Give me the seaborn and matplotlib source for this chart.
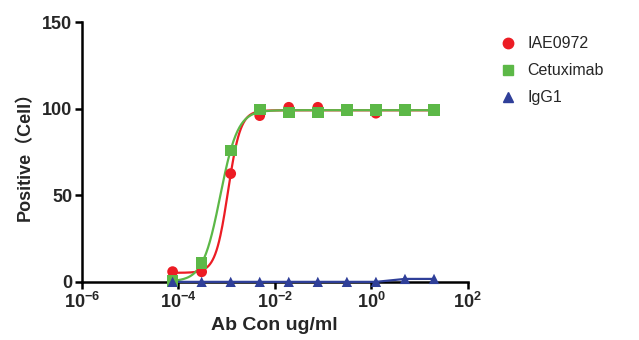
import numpy as np
import pandas as pd
import seaborn as sns
import matplotlib
matplotlib.use("Agg")
import matplotlib.pyplot as plt
from matplotlib.ticker import NullLocator
from matplotlib.lines import Line2D

# Antibody concentrations (ug/ml), 4-fold serial dilution from 20 ug/ml
conc = [7.63e-5, 3.05e-4, 1.22e-3, 4.88e-3, 0.0195, 0.078, 0.3125, 1.25, 5.0, 20.0]

# Positive cells (%) per antibody
iae0972 = [5.9, 5.8, 62.5, 96.0, 100.8, 100.8, 99.2, 97.4, 99.2, 99.3]
cetuximab = [0.5, 10.9, 75.9, 99.6, 97.9, 97.9, 99.4, 99.4, 99.4, 99.4]
igg1 = [0.0, 0.0, 0.0, 0.0, 0.0, 0.0, 0.0, 0.0, 1.7, 1.7]

series_names = ["IAE0972", "Cetuximab", "IgG1"]
colors = {"IAE0972": "#ec1c24", "Cetuximab": "#5cb847", "IgG1": "#2f3f99"}
markers = {"IAE0972": "o", "Cetuximab": "s", "IgG1": "^"}
msizes = {"IAE0972": 60, "Cetuximab": 70, "IgG1": 55}

xticks = [1e-6, 1e-4, 1e-2, 1e0, 1e2]
xtick_labels = [r"$\mathrm{10^{-6}}$", r"$\mathrm{10^{-4}}$", r"$\mathrm{10^{-2}}$",
                r"$\mathrm{10^{0}}$", r"$\mathrm{10^{2}}$"]
yticks = [0, 50, 100, 150]

df = pd.DataFrame({
    "conc": conc * 3,
    "value": iae0972 + cetuximab + igg1,
    "Ab": sum([[n] * len(conc) for n in series_names], []),
})


def fit_4pl(x, y):
    """Four-parameter logistic fit: grid over logEC50/hill, linear solve for bottom/top."""
    lx = np.log10(np.asarray(x))
    y = np.asarray(y)
    best = None
    for lec in np.linspace(-4.5, -1.5, 301):
        for h in np.linspace(0.5, 5.0, 91):
            s = 1.0 / (1.0 + 10 ** ((lec - lx) * h))
            A = np.column_stack([1 - s, s])
            coef, *_ = np.linalg.lstsq(A, y, rcond=None)
            r = np.sum((A @ coef - y) ** 2)
            if best is None or r < best[0]:
                best = (r, lec, h, coef[0], coef[1])
    _, lec, h, bot, top = best
    return lambda xx: bot + (top - bot) / (1.0 + 10 ** ((lec - np.log10(xx)) * h))


sns.set_style("ticks")
plt.rcParams["font.family"] = ["Liberation Sans", "Noto Sans CJK SC", "DejaVu Sans"]
plt.rcParams["mathtext.fontset"] = "custom"
plt.rcParams["mathtext.rm"] = "Liberation Sans:bold"
plt.rcParams["mathtext.bf"] = "Liberation Sans:bold"

fig = plt.figure(figsize=(6.39, 3.40), dpi=100)
ax = fig.add_axes([0.128, 0.171, 0.604, 0.764])

xx = np.logspace(np.log10(conc[0]), np.log10(conc[-1]), 400)
for name, vals in [("IAE0972", iae0972), ("Cetuximab", cetuximab)]:
    f = fit_4pl(conc, vals)
    fit_df = pd.DataFrame({"conc": xx, "value": f(xx)})
    sns.lineplot(data=fit_df, x="conc", y="value", color=colors[name], lw=1.6, ax=ax, zorder=2)

sns.lineplot(x=conc, y=igg1, color=colors["IgG1"], lw=1.6, ax=ax, zorder=2)

for name in series_names:
    sub = df[df["Ab"] == name]
    sns.scatterplot(data=sub, x="conc", y="value", color=colors[name], marker=markers[name],
                    s=msizes[name], edgecolor="none", ax=ax, zorder=3, legend=False)
for coll in ax.collections:
    coll.set_clip_on(False)
for ln in ax.lines:
    ln.set_clip_on(False)

ax.set_xscale("log")
ax.set_xlim(1e-6, 1e2)
ax.set_ylim(0, 150)
ax.set_xticks(xticks)
ax.set_xticklabels(xtick_labels)
ax.xaxis.set_minor_locator(NullLocator())
ax.set_yticks(yticks)
ax.tick_params(axis="both", which="major", direction="out", length=5, width=1.8,
               labelsize=13, pad=2, color="black")
for lab in ax.get_yticklabels():
    lab.set_fontweight("bold")
for sp in ["left", "bottom"]:
    ax.spines[sp].set_linewidth(1.8)
    ax.spines[sp].set_color("black")
    ax.spines[sp].set_zorder(1)
sns.despine(ax=ax)

ax.set_xlabel("Ab Con ug/ml", fontsize=14, fontweight="bold", labelpad=4)
ax.set_ylabel("Positive（Cell）", fontsize=13, fontweight="bold", labelpad=6)

handles = [Line2D([], [], linestyle="none", marker=markers[n], color=colors[n],
                  markersize=7.5 if n != "IgG1" else 7) for n in series_names]
fig.legend(handles, series_names, loc="upper left", bbox_to_anchor=(0.758, 0.935),
           frameon=False, fontsize=11.5, handletextpad=0.6, labelspacing=0.75,
           handlelength=1.2)

fig.savefig("out.png", dpi=100)
